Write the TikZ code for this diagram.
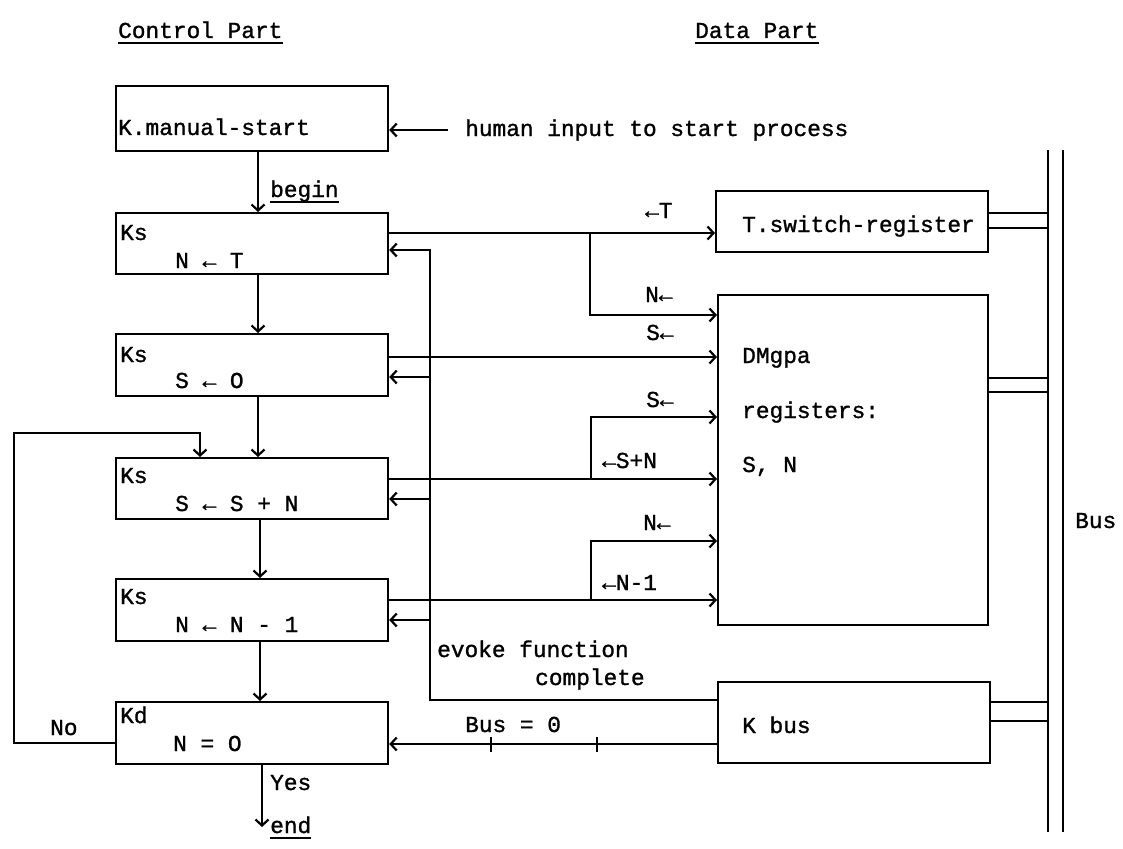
\documentclass[tikz,border=0pt]{standalone}
\usepackage{fontspec}
\setmonofont{Liberation Mono}[FakeBold=1.2]
\usetikzlibrary{arrows.meta}
\begin{document}
\begin{tikzpicture}[x=1pt,y=-1pt,
  ln/.style={line width=2.2pt},
  arr/.style={ln,-{Straight Barb[length=6pt,width=13pt,line width=2.2pt]}},
  box/.style={draw,line width=2.2pt,rectangle,inner sep=0pt,anchor=north west},
  txt/.style={font=\ttfamily\fontsize{22.8}{26}\selectfont,anchor=base west,inner sep=0pt},
  uline/.style={line width=1.5pt}
  ]
\useasboundingbox (0,0) rectangle (1123,848);
% headings
\node[txt] (cp) at (118,38) {Control Part};
\draw[uline] ([yshift=-5pt]cp.base west) -- ([yshift=-5pt]cp.base east);
\node[txt] (dp) at (695,38) {Data Part};
\draw[uline] ([yshift=-5pt]dp.base west) -- ([yshift=-5pt]dp.base east);
% control boxes
\node[box,minimum width=272pt,minimum height=65pt] (km) at (115,85) {};
\node[txt] (kmt) at (118,135) {K.manual-start};
\node[box,minimum width=272pt,minimum height=61pt] (ks1) at (115,212) {};
\node[txt] (ks1a) at (120,240) {Ks};
\node[txt] (ks1b) at (175,268) {N ← T};
\node[box,minimum width=272pt,minimum height=62pt] (ks2) at (115,333) {};
\node[txt] (ks2a) at (120,362) {Ks};
\node[txt] (ks2b) at (175,388) {S ← O};
\node[box,minimum width=272pt,minimum height=61pt] (ks3) at (115,457) {};
\node[txt] (ks3a) at (120,483) {Ks};
\node[txt] (ks3b) at (175,511) {S ← S + N};
\node[box,minimum width=272pt,minimum height=62pt] (ks4) at (115,578) {};
\node[txt] (ks4a) at (120,604) {Ks};
\node[txt] (ks4b) at (175,632) {N ← N - 1};
\node[box,minimum width=272pt,minimum height=62pt] (kd) at (115,701) {};
\node[txt] (kda) at (120,723) {Kd};
\node[txt] (kdb) at (173,751) {N = O};
% data boxes
\node[box,minimum width=272pt,minimum height=61pt] (tsw) at (715,190) {};
\node[txt] (tswt) at (742,232) {T.switch-register};
\node[box,minimum width=270pt,minimum height=330pt] (dm) at (717,294) {};
\node[txt] (dm1) at (742,363) {DMgpa};
\node[txt] (dm2) at (742,418) {registers:};
\node[txt] (dm3) at (742,472) {S, N};
\node[box,minimum width=272pt,minimum height=81pt] (kb) at (717,681) {};
\node[txt] (kbt) at (742,733) {K bus};
% bus
\coordinate (b1t) at (1048,150); \coordinate (b1b) at (1048,832);
\coordinate (b2t) at (1063,150); \coordinate (b2b) at (1063,832);
\draw[ln] (b1t) -- (b1b);
\draw[ln] (b2t) -- (b2b);
\node[txt] (bus) at (1075,528) {Bus};
\draw[ln] (tsw.east |- 0,213) -- (b1t |- 0,213);
\draw[ln] (tsw.east |- 0,228) -- (b1t |- 0,228);
\draw[ln] (dm.east |- 0,378) -- (b1t |- 0,378);
\draw[ln] (dm.east |- 0,392) -- (b1t |- 0,392);
\draw[ln] (kb.east |- 0,702) -- (b1t |- 0,702);
\draw[ln] (kb.east |- 0,721) -- (b1t |- 0,721);
% human input
\coordinate (hin) at (448,130);
\draw[arr] (hin) -- (km.east |- hin);
\node[txt] (hint) at (465,136) {human input to start process};
% control flow
\draw[arr] (km.south -| 258,0) -- (ks1.north -| 258,0);
\node[txt] (beg) at (270,197) {begin};
\draw[uline] ([yshift=-5pt]beg.base west) -- ([yshift=-5pt]beg.base east);
\draw[arr] (ks1.south -| 258,0) -- (ks2.north -| 258,0);
\draw[arr] (ks2.south -| 258,0) -- (ks3.north -| 258,0);
\draw[arr] (ks3.south -| 260,0) -- (ks4.north -| 260,0);
\draw[arr] (ks4.south -| 260,0) -- (kd.north -| 260,0);
\coordinate (lpb) at (14,743); \coordinate (lpt) at (14,433);
\draw[arr] (kd.west |- lpb) -- (lpb) -- (lpt) -- (200,433) -- (ks3.north -| 200,0);
\node[txt] (no) at (50,735) {No};
\coordinate (endc) at (262,827);
\draw[arr] (kd.south -| endc) -- (endc);
\node[txt] (yes) at (270,790) {Yes};
\node[txt] (endt) at (270,833) {end};
\draw[uline] ([yshift=-5pt]endt.base west) -- ([yshift=-5pt]endt.base east);
% control to data
\draw[arr] (ks1.east |- 0,233) -- (tsw.west |- 0,233);
\node[txt] (l1) at (645,218) {←T};
\draw[arr] (590,233) -- (590,315) -- (dm.west |- 0,315);
\node[txt] (l2) at (645,302) {N←};
\draw[arr] (ks2.east |- 0,357) -- (dm.west |- 0,357);
\node[txt] (l3) at (646,340) {S←};
\draw[arr] (ks3.east |- 0,479) -- (dm.west |- 0,479);
\draw[arr] (591,479) -- (591,417) -- (dm.west |- 0,417);
\node[txt] (l4) at (646,407) {S←};
\node[txt] (l5) at (602,468) {←S+N};
\draw[arr] (ks4.east |- 0,600) -- (dm.west |- 0,600);
\draw[arr] (591,600) -- (591,541) -- (dm.west |- 0,541);
\node[txt] (l6) at (643,530) {N←};
\node[txt] (l7) at (602,590) {←N-1};
% evoke function complete return
\draw[arr] (kb.west |- 0,700) -- (430,700) -- (430,250) -- (ks1.east |- 0,250);
\draw[arr] (430,377) -- (ks2.east |- 0,377);
\draw[arr] (430,499) -- (ks3.east |- 0,499);
\draw[arr] (430,620) -- (ks4.east |- 0,620);
\node[txt] (ev1) at (437,657) {evoke function};
\node[txt] (ev2) at (535,685) {complete};
% Bus = 0
\draw[arr] (kb.west |- 0,744) -- (kd.east |- 0,744);
\draw[line width=2.5pt] (491,737) -- (491,752);
\draw[line width=2.5pt] (597,737) -- (597,752);
\node[txt] (b0) at (465,732) {Bus = 0};
\end{tikzpicture}
\end{document}
